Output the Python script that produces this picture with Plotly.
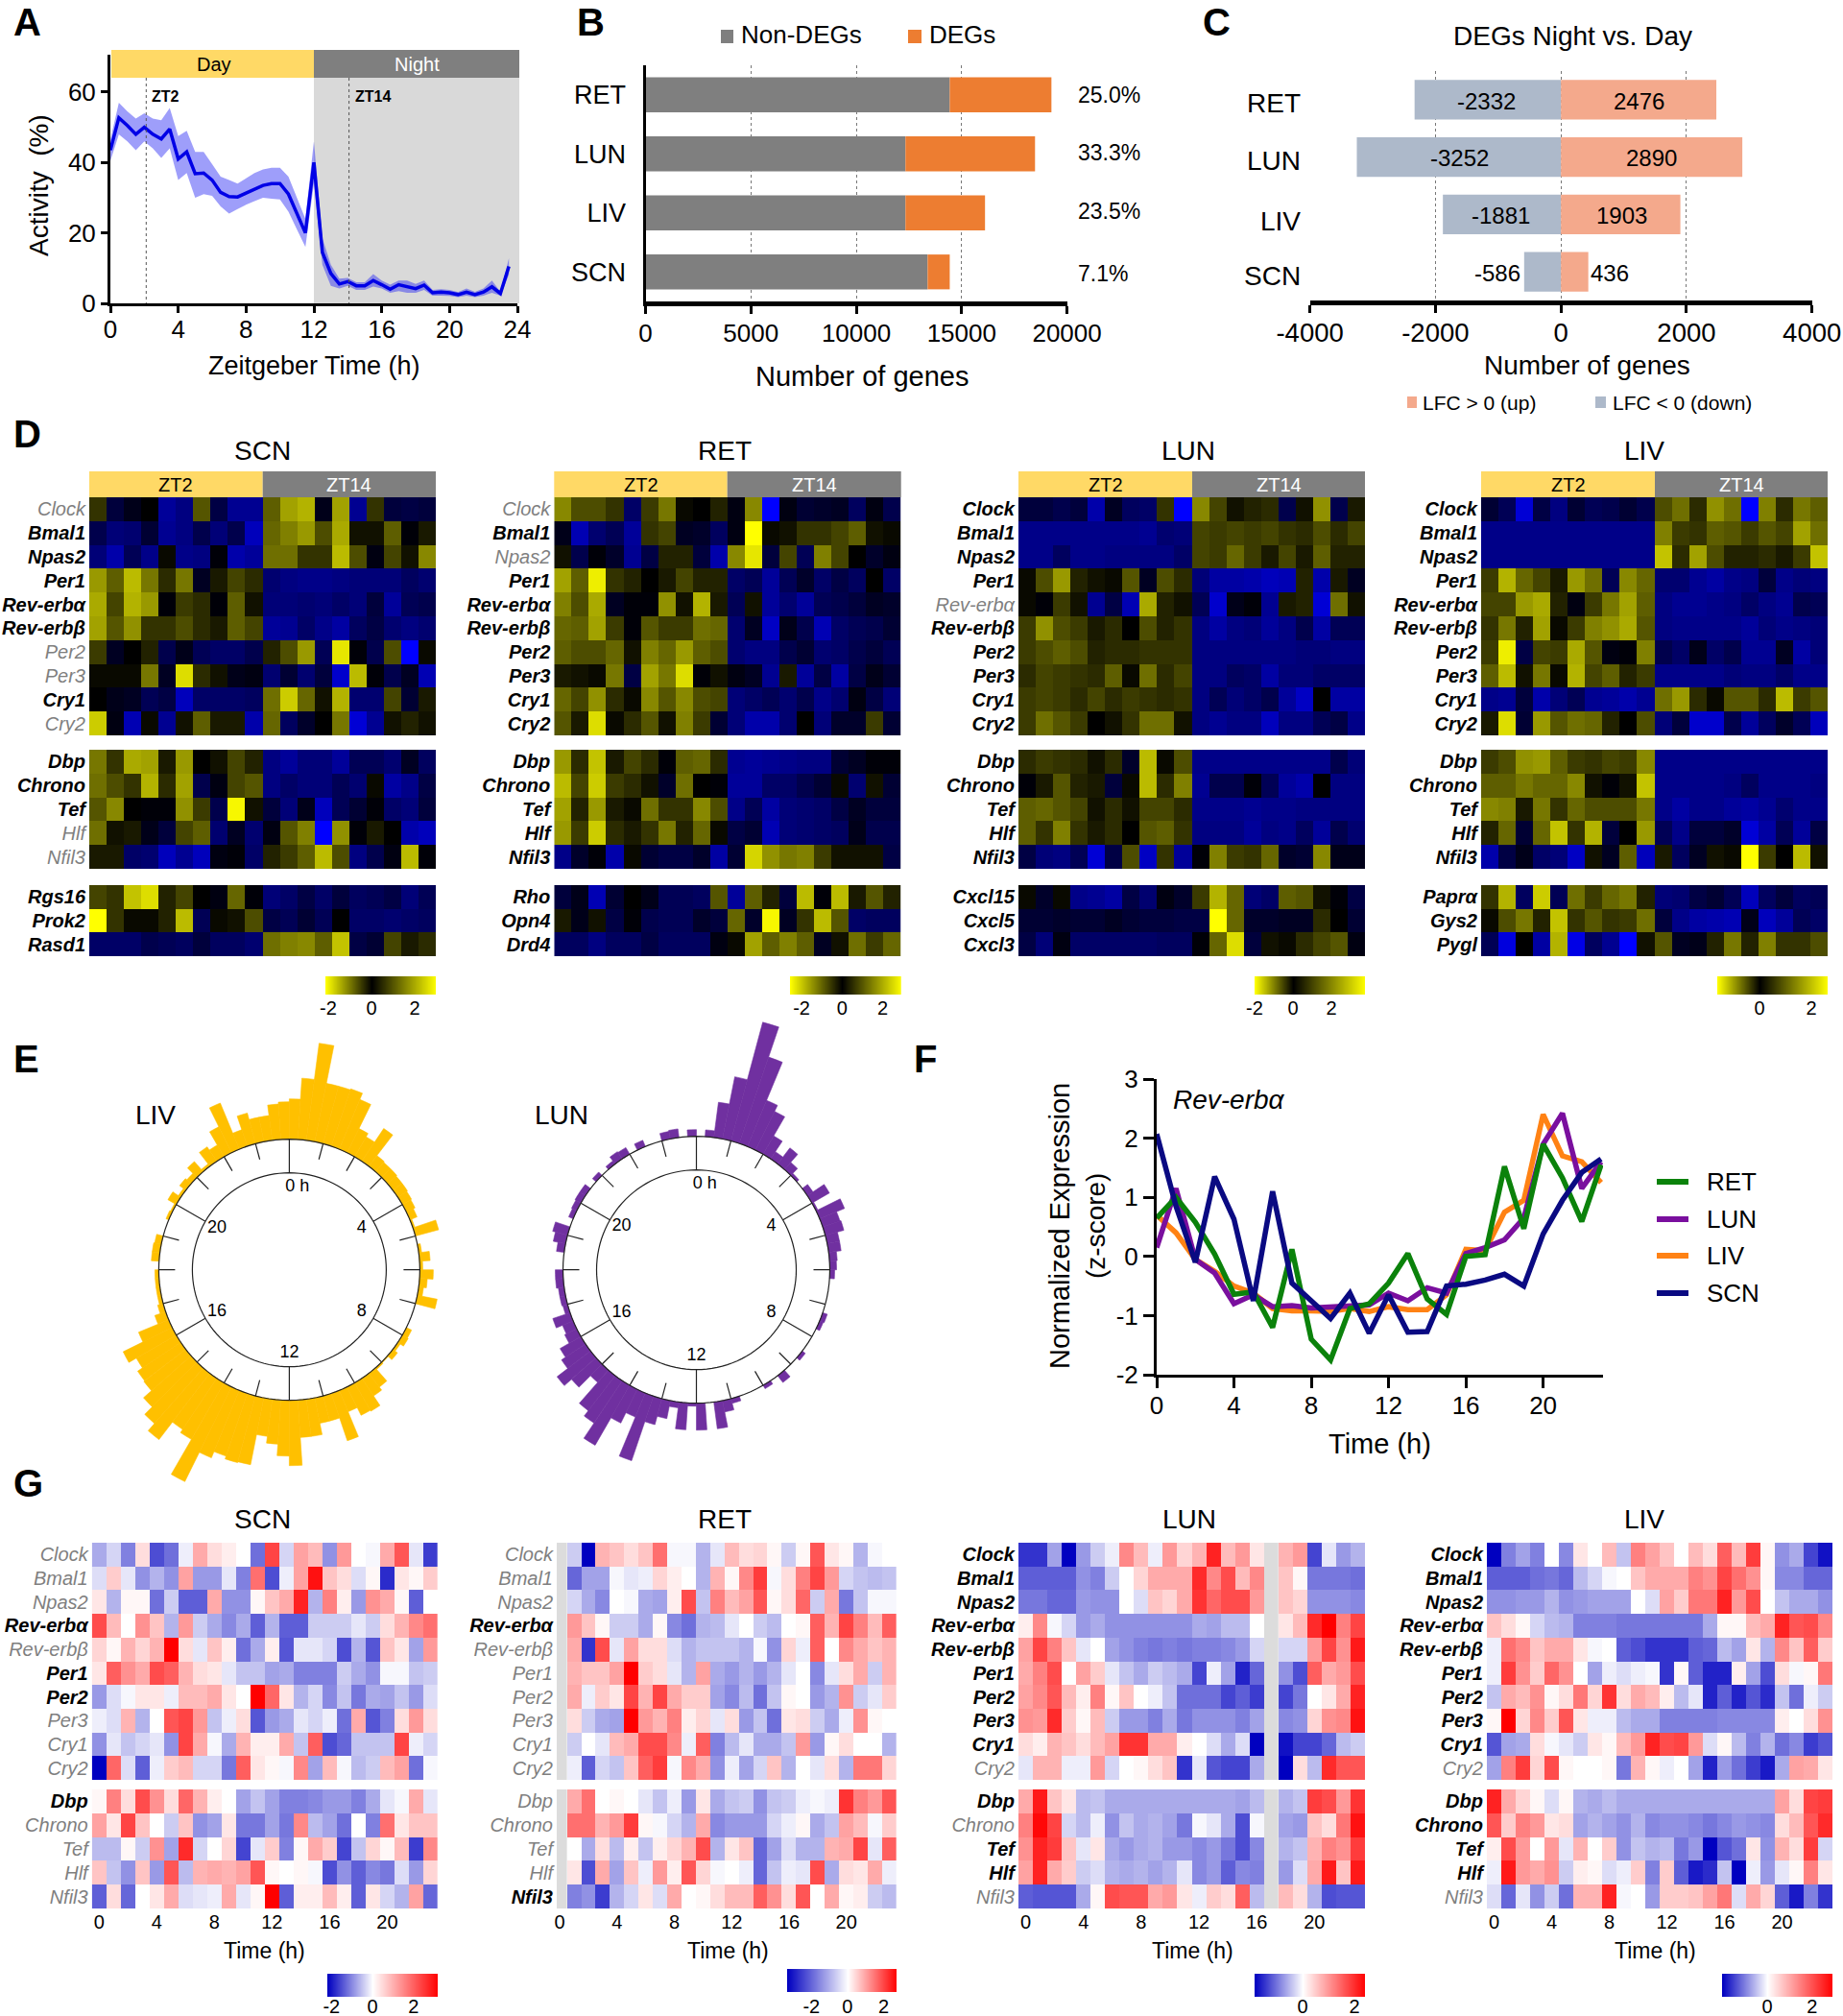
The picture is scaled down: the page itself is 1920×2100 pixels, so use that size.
# Circadian transcriptome figure, panels A-G
import plotly.graph_objects as go

W, H = 1920, 2100
FONT = "Liberation Sans"
N = None

# --- panel A
ACT_T = [i * 0.5 for i in range(48)]
ACT_MEAN = [43.5, 52.7, 50.5, 48, 50, 48, 46.7, 49.5, 41, 43, 36.8, 37, 35, 31.5, 30.3, 30.2, 31.3, 32.5, 33.5, 34, 34, 31, 25.5, 20,
            40, 14.5, 8.5, 5.5, 6.2, 5, 5, 6.5, 5.3, 4, 5.3, 4.8, 4.2, 5.2, 3, 3.2, 3, 2.5, 3.2, 2.5, 3.2, 4.7, 2.8, 10.5]
ACT_UP = [46.5, 57, 54.5, 52.5, 54, 52.5, 52, 55.5, 47.5, 49, 43, 43, 39.5, 36, 35, 34, 35.5, 37, 38, 38.5, 38.5, 36, 30, 24,
          46, 18.5, 11, 7, 7.2, 6, 6, 8.3, 6.5, 5.3, 6.5, 6.5, 5.5, 6.5, 3.8, 4, 3.8, 3.2, 4.2, 3.3, 4.2, 6.5, 3.3, 12.8]
ACT_LOW = [40.5, 48, 46, 43.5, 46, 44, 41.3, 44, 35, 37, 30, 31, 30.5, 27.5, 25.5, 26.8, 28, 29, 30, 29.7, 29.5, 26, 21, 16,
           34, 11, 5, 4.2, 5, 3.8, 3.8, 4.8, 4.2, 3, 3.5, 3, 3, 3.8, 2.2, 2.2, 2.1, 1.8, 2.2, 1.8, 2.2, 3, 2.2, 8.2]

# --- panels B and C
TISSUES = ["RET", "LUN", "LIV", "SCN"]
NON_DEGS = [14435, 12334, 12334, 13385]
DEGS = [4825, 6148, 3775, 1050]
DEG_PCT = ["25.0%", "33.3%", "23.5%", "7.1%"]
LFC_DOWN = [-2332, -3252, -1881, -586]
LFC_UP = [2476, 2890, 1903, 436]

# --- panel D, z-scores per gene (10 ZT2 samples then 10 ZT14 samples)
D_SCN_GENES = ["Clock", "Bmal1", "Npas2", "Per1", "Rev-erbα", "Rev-erbβ", "Per2", "Per3", "Cry1", "Cry2", "Dbp", "Chrono", "Tef", "Hlf", "Nfil3", "Rgs16", "Prok2", "Rasd1"]
D_RET_GENES = D_SCN_GENES[:15] + ["Rho", "Opn4", "Drd4"]
D_LUN_GENES = D_SCN_GENES[:15] + ["Cxcl15", "Cxcl5", "Cxcl3"]
D_LIV_GENES = D_SCN_GENES[:15] + ["Paprα", "Gys2", "Pygl"]
D_SCN_GREY = ["Clock", "Per2", "Per3", "Cry2", "Hlf", "Nfil3"]
D_RET_GREY = ["Clock", "Npas2"]
D_LUN_GREY = ["Rev-erbα"]
D_LIV_GREY = []

D_SCN = [
    [0.6, -0.7, -0.3, 0, -1.8, -1.5, 1, -0.8, -1.7, -1.7, 1.1, 1.9, 2.1, -0.3, 1.9, -1.7, 0.6, -0.7, -0.8, -0.7],
    [-0.9, -1.4, -1.3, -0.6, -1.7, -1.5, -0.9, -1.4, -0.9, -2.2, 1.2, 1.5, 1.8, 0.9, 2, 0.2, 0.2, 1.1, -0.1, 0.3],
    [-1.4, -2, -1, -1.6, 0.1, -1.6, -1.5, -0.1, -2, -1.8, 1.3, 1.3, 0.6, 0.6, 2.2, 0.9, -0.2, 0.8, 0.2, 1.6],
    [1.8, 1.1, 2.2, 1.4, 0.5, 1.4, -0.4, 0.3, 0.8, 0.5, -1.3, -1.5, -1.6, -1.6, -1.5, -1.4, -1.4, -1.4, -1.1, -1.3],
    [2, 0.8, 2.1, 1.8, -0.1, 0.7, 0.5, -0.1, 1.1, 0.2, -1.4, -1.4, -1.3, -1.4, -1.2, -1.4, -0.7, -1.8, -1, -0.9],
    [1.9, 1, 1.7, 0.6, 0.6, 0.9, 0.5, 0.3, 1.1, 0.8, -1.8, -1.7, -1.2, -1.6, -1.9, -1.1, -0.8, -1.3, -1.5, -1.3],
    [0.7, -0.4, 0, 0.4, -0.9, -0.3, -1, -1.2, -1.2, -0.9, 0.4, 0.9, 1.8, -1, 2.7, -0.1, -0.9, 0.9, -3, 0.1],
    [0.1, 0.1, 0.1, 1.4, -0.4, 2.6, 0.5, 0.2, -0.3, -0.2, -1.3, -0.6, -1.3, -0.7, -2.4, 2.2, -0.1, -0.9, -0.4, -2.1],
    [0, -0.3, -0.4, -1, -0.8, -2.2, -1.2, -1.2, -1.2, -1.1, 1.3, 2.4, 1.2, 0.2, 2.1, -1.3, -1.3, 0.8, -0.6, 0.3],
    [2.4, -0.2, -2.1, 0.1, -1.7, 0.2, 1.1, 0.3, 0.3, -2, 1.2, -1.1, -0.5, 0, 1.4, -2.5, -1.7, 0.2, 0.4, 0.2],
    [1.4, 0.6, 2, 1.9, 0.3, 1.8, 0, 0.2, 0.8, 0.4, -1.5, -1.8, -1.4, -1.4, -1.8, -1, -1, -1.3, -0.4, -1.1],
    [1.3, 0.9, 0.6, 2.1, 0.5, 1.9, -0.9, -0.2, 0.8, 1, -1.5, -1.2, -1.4, -1.4, -1, -1.3, 0.1, -1.9, -1.6, -0.8],
    [1, 1.6, 0, -0.1, -0.1, 1.7, 0.7, -0.9, 2.9, 0.2, -0.7, -1.4, -0.3, -2.2, -1, -0.6, -0.1, -1.2, -1.4, -0.7],
    [1.3, 0.2, 0.3, -0.3, -0.7, 0.8, 1.1, -1.3, -0.4, -1.3, -0.2, 1, 1.5, -3, 1.7, -0.1, 0.3, 0, -2, -2.2],
    [0.3, 0.3, -1.2, -1.3, -2.2, -1.7, -2.2, -0.2, -0.1, -1.2, 0.4, 0.7, 1.1, 2.2, 0.9, -1.5, -0.9, -0.2, 2.2, -0.1],
    [0.8, 0.6, 2.3, 2.6, 0.4, 0.8, 0, -0.2, 1.2, -0.1, -1.4, -1.2, -0.8, -1.2, -0.7, -1.1, -1, -0.8, -1.4, -1],
    [3, 0.6, 0.1, 0.1, 0.4, 2.2, -1, 0.1, 0.2, 0.9, -0.8, -1, -0.6, -1, 0, -1.2, -1.2, -1.3, -1.2, -1.1],
    [-1.2, -1.2, -1.2, -0.9, -1, -1.1, -0.7, -1.1, -1.1, -1.3, 1.3, 1.5, 1.6, 1.1, 2.3, -0.8, -0.6, 0.8, 0.3, 0.5],
]
D_RET = [
    [1.6, 0.9, 0.9, 0.6, -1.2, 0.7, 1.4, 0.1, 0, 0.4, -0.2, 1.6, -3, -0.2, -0.6, -0.5, -0.4, -1.1, -0.2, -0.9],
    [-0.3, -2.1, -1.3, -1, -1.8, 0.6, 0.8, -0.4, -0.5, -1.1, -0.2, 3, 0.1, 0.2, 0.6, 0.6, 0.8, 1.1, 0.2, 0.1],
    [0.2, -0.9, -0.1, -0.5, -1.7, -0.8, 0.4, 0.4, -0.7, -2, 1.6, 2.7, -0.7, 0.8, -1, 1.5, 0.8, 0, -0.5, -0.2],
    [1.9, 1.1, 2.8, 0.6, 0.4, 0, 0.3, 0.8, 0.4, 0.4, -1.2, -1, -1.8, -1, -0.5, -1.2, -0.8, -1.1, 0, -1.2],
    [1.5, 0.9, 2, -0.4, -0.1, -0.1, 1.7, 0.2, 2.1, 0.3, -1, 0.2, -1.8, -1.3, -1.8, -1, -0.9, -0.7, -0.4, -0.5],
    [1.2, 1.1, 1.9, 0.7, -0.1, 1, 0.7, 0.7, 1.3, 1.2, -1.3, -0.4, -2.3, -0.3, -0.9, -2.1, -1.2, -1, -0.9, -0.6],
    [1.1, 0.9, 0.9, 1.2, 0.2, 1.5, 1.2, 1.8, 1.1, 0.9, -1.3, -1.5, -1.5, -0.9, -0.6, -1.3, -1.2, -0.9, -0.7, -1],
    [0.3, 0.2, 0.1, 1.4, -0.8, 1.9, 1.4, 2.6, -0.1, 0.2, -0.2, -0.4, -1.7, 0.3, -1.8, -0.8, -1.9, -0.8, -0.3, -0.6],
    [1.2, 0.8, 1.7, 0.5, 0.1, 1.6, 1, 1.6, 0.9, 0.8, -1.4, -1.2, -1, -1.3, -0.9, -1.6, -1.3, -0.2, -0.8, -1.4],
    [1, 0.3, 2.6, 0.1, 0.5, 1, 0.2, 1.5, 0.7, -0.6, -1.4, -2, -2, -1.3, 0, -1.4, -0.5, -0.5, 0.7, -0.6],
    [1.8, 0.5, 2.3, 0.3, 0.8, 0.5, -0.1, 1.1, 1.2, 0.5, -1.7, -1.8, -1.7, -1.6, -1.5, -1.5, -0.6, -0.4, -0.1, -0.1],
    [2.2, 0.8, 2.4, 0.7, 0.5, 0.2, -0.5, 1.3, 0, -0.1, -1.8, -1.8, -1.2, -1.2, -0.9, -0.6, 0.1, -1.3, 0.2, -0.6],
    [1.9, 0.4, 1.8, 0.3, 0.1, 1.3, 0.6, 0.6, 1.6, 0.9, -1.6, -1, -1.9, -1.4, -1.3, -1.2, -0.8, -0.4, -0.7, -0.7],
    [1.8, 0.7, 2.4, 0.5, 0.3, 0.6, 1.4, 0.4, 1.2, 0.1, -0.8, -0.6, -2.1, -1.4, -1.3, -1.2, -1.1, -0.3, -0.9, -0.9],
    [-1.6, -0.5, -0.1, -2, 0.1, -0.6, -0.8, -0.8, -0.5, -1.9, -0.6, 2.5, 1.7, 1.4, 1.5, 0.7, 0.2, 0.2, 0.2, -0.8],
    [-0.7, -0.3, -2.1, -0.6, 0, -0.3, -1, -1, -1.1, 1, -1.8, 1.1, 0.4, -0.7, 2.2, -0.1, 2.2, 0.3, 1, 0.4],
    [0.3, -0.3, 0.2, -0.8, -0.1, -0.9, -1, -1, -0.5, -0.7, 1.2, -0.5, 2.9, -0.4, 0.6, 2.2, 1, -1.2, -1.1, -1.1],
    [-1.1, -1.1, -1.5, -1.1, -1.1, -0.8, -1.1, -1.1, -1.1, -0.2, 0.1, 1.9, 1.1, 1.5, 1.1, -0.4, 0.2, 1.3, 0.7, 1.2],
]
D_LUN = [
    [-0.7, -0.7, -0.9, -0.7, -2, -0.4, -1.1, -1.2, 0.6, -3, 1.6, 0.8, 0.2, 0.4, 0.5, -0.9, 0.2, 1.7, -0.9, 0.3],
    [-1.6, -1.6, -1.6, -1.6, -1.6, -1.6, -1.6, -1.7, -1.3, -1.4, 0.8, 0.7, 0.8, 0.7, 0.8, 0.6, 0.5, 0.9, 0.5, 0.8],
    [-1.6, -1.6, -1.1, -1.6, -1.6, -1.5, -1.5, -1.5, -1.5, -1.2, 0.8, 0.7, 1.2, 0.7, 0.3, 0.8, 0.3, 1.1, 0.4, 0.4],
    [0.1, 0.9, 1.8, 0.4, 0.2, 0.1, 1, -0.4, 0.9, 0.5, -1.4, -1.9, -1.9, -2, -2.2, -2.1, 0.4, -2, 0.3, -0.4],
    [0.1, -0.1, 0.7, 0.2, -1.7, -0.8, -2.1, 2, 0.4, 0.2, -1, -2.4, -0.3, -0.1, -1.7, 0.3, 0.4, -2.5, 1.3, 0.2],
    [0.7, 1.7, 0.9, 0.7, 0.3, 0.5, 0, 0.9, 0.4, 0.6, -1.5, -1.9, -1.5, -1.4, -1.8, -1.5, -0.9, -1.9, -1, -1],
    [0.7, 0.9, 1.1, 0.9, 0.4, 0.5, 0.5, 0.6, 0.6, 0.6, -1.5, -1.5, -1.5, -1.5, -1.5, -1.5, -1.4, -1.4, -1.5, -1.5],
    [0.5, 0.8, 0.7, 0.6, 0.5, 1.1, 0.1, 1.3, 0.5, 0.8, -1.5, -1.5, -1.1, -1.2, -1.9, -1.4, -1.4, -1.2, -1.2, -1.2],
    [0.7, 0.8, 0.7, 0.5, 0.8, 0.5, 0.7, 0.6, 0.5, 0.6, -1.5, -1, -1.4, -1.2, -0.9, -1.8, -2.3, 0, -1.9, -1.9],
    [0.7, 1.3, 1, 0.7, 0, 0.2, 0.6, 1.3, 1.3, 0.2, -1.5, -1.7, -1.5, -1.5, -2.2, -1.5, -1.5, -1, -0.8, -1.6],
    [0.5, 0.7, 0.6, 0.5, 0.2, 0.5, -0.5, 2.2, 0.1, 0.9, -1.6, -1.6, -1.6, -1.6, -1.6, -1.6, -1.6, -1.6, -0.9, -1.4],
    [-0.1, 0.3, 1, 0.4, 0.3, -0.7, 0.1, 2.2, 0.5, 1.5, -1.7, -0.9, -0.9, -0.1, -1, -1.8, -2, 0, -1.5, -1.5],
    [1.1, 1.2, 1, 0.8, 0.2, 0.5, 0.2, 0.8, 0.8, 0.5, -1.6, -1.6, -1.6, -1.7, -1.6, -1.6, -1.5, -1.5, -1.5, -1.5],
    [1.1, 0.6, 1.5, 0.6, 0.3, 0.5, 0, 1, 1.1, 0.6, -1.5, -1.5, -1.5, -1.8, -1.5, -1.6, -1.1, -1.8, -0.9, -1.3],
    [-0.8, -1.4, -1.5, -1, -2.5, -0.8, 0.9, -2.3, 0.6, -1.8, -0.1, 1.5, 0.7, 0.6, 1.2, -0.5, -0.6, 1.6, -0.3, -0.3],
    [0.1, -0.5, 0.1, -1.6, -1.7, -1.9, -0.8, -1.3, -0.2, -0.5, 0.7, 2.1, 1.2, -1.4, -1.2, 1.1, 1, 0.2, -0.1, -0.8],
    [-0.6, -0.6, -0.5, -0.6, -0.6, -0.4, -0.6, -0.7, -0.7, -0.8, -0.8, 3, 1.2, -0.5, -0.5, -0.4, -0.4, 0.5, 0, -0.6],
    [-0.8, -1.4, -0.2, -1.2, -1.2, -1.2, -1.2, -1.2, -1.1, -1.1, -0.1, 1.2, 2.6, -0.7, 0.2, 0.1, 0.5, 0.8, 1, -0.2],
]
D_LIV = [
    [-0.6, -1, -2.5, -0.8, -1.5, -0.6, -1, -0.9, -0.6, -0.9, 0.9, 1.3, 0.5, 1.7, 1.3, -3, 1.5, 0.5, 1.4, 1.1],
    [-1.6, -1.6, -1.6, -1.6, -1.6, -1.6, -1.6, -1.6, -1.6, -1.6, 1.5, 0.7, 0.6, 1.1, 1, 0.7, 1, 0.8, 1.9, 1.3],
    [-1.6, -1.6, -1.6, -1.6, -1.6, -1.6, -1.6, -1.6, -1.6, -1.6, 2.3, 0.5, 1.9, 0.9, 0.4, 0.4, 0.5, 0.3, 0.7, 2.3],
    [0.7, 2.1, 1.2, 0.8, 0.3, 1.8, 1.3, -1, 1.6, 1.2, -1.3, -1.3, -1.7, -1.9, -1.6, -1.5, -0.7, -1.6, -1.4, -1.5],
    [0.8, 0.8, 1.8, 2, 0.4, -0.2, 0.7, 1.4, 1.9, 1.1, -1.5, -1.7, -1.7, -1.6, -1.5, -1.2, -1.5, -1.7, -0.9, -1],
    [0.6, 1.4, 0.4, 1.9, 0.1, 0.7, 1.5, 1.7, 2, 1, -1.5, -1.6, -1.6, -1.6, -1.6, -1.8, -1.4, -1.6, -1.5, -1.4],
    [0.7, 2.8, -0.8, 0.8, 0.7, 2, 1, -0.2, -0.1, 1.5, -0.9, -1.2, -0.3, -1.2, -0.9, -1.7, -1.7, -0.4, -1.9, -1.4],
    [1.1, 2.2, 0.2, 1.4, 0.1, 2.1, 0.8, 1.1, 0.4, 0.7, -1.6, -1.6, -1.6, -1.6, -1.4, -1.5, -1.5, -1.2, -1.6, -1.6],
    [-1.6, -1.7, -0.7, -2, -1.4, -1, -1.7, -1.8, -2, -1.7, 1.3, 1.8, 0.5, 0.1, 1, 1, 0.5, 2.2, 0.7, 1],
    [0.3, 2.6, -0.6, 1.8, 1, 1.3, 1.2, 0.4, 0, 0.9, -1.4, -0.7, -2.4, -2.4, -0.9, -1.8, -1.1, -0.5, -1, -2.2],
    [0.7, 0.9, 1.7, 1.8, 1.1, 0.7, 0.6, 0.8, 0.7, 1.6, -1.6, -1.6, -1.6, -1.6, -1.6, -1.6, -1.6, -1.6, -1.6, -1.6],
    [1.1, 1.1, 1.4, 1.2, 1.2, 1.6, 0.2, -0.1, 0.2, 2.3, -1.6, -1.6, -1.6, -1.6, -1.5, -1.1, -1.6, -1.6, -1.6, -1.5],
    [1.6, 1.5, 0.3, 1.4, 0.6, 1.2, 0.9, 0.9, 0.9, 1.4, -1.6, -1.9, -1.6, -1.6, -1.8, -1.9, -1.7, -1.3, -1.6, -1.6],
    [0.4, 1.2, -0.6, 1.2, 2.3, 0.6, 2.1, -0.7, 0, 1.8, -1, -1.6, -0.7, -0.7, -0.5, -2.5, -1.9, -1, -1.8, -0.8],
    [-2, -0.8, -0.3, -1.2, -1.4, -2.3, 0.2, -0.4, 1.1, -2.2, 0.3, -1.1, -0.4, 0.2, 0.1, 3, 0.7, 0, 2.2, 0.2],
    [0.6, 2.1, -1.1, 2.4, -1, 1.3, 0.7, 1.2, 1.4, 0.4, -1.4, -1.3, -0.8, -0.6, -1, -2.2, -1.1, -0.7, -1.1, -1],
    [0.1, 0.9, 1.4, 0.4, 2.3, 0.6, 1, 0.6, 0.7, 1.3, -0.7, -1.6, -1.9, -2, -2.1, -0.3, -2.2, -1.8, -1, -1.2],
    [-1, -2.6, 0, -1.9, 2.1, -2.7, -1.1, -1.7, -3, 0.2, 1, -0.4, -0.3, 0.4, 1.4, 0.4, 1.5, 0.6, 0.6, 0.9],
]

# --- panel E, peak-phase histograms in 96 bins of 0.25 h
LIV_HIST = [42, 64, 102, 62, 62, 63, 56, 28, 24, 41, 14, 13, 13, 12, 12, 11, 10, 8, 2, 25, 0, 3, 11, 3,
            14, 8, 5, 21, 0, 0, 0, 6, 7, 3, 6, 1, 2, 18, 22, 34, 33, 24, 52, 27, 27, 39, 39, 68,
            58, 46, 39, 71, 72, 69, 76, 110, 68, 64, 87, 77, 66, 55, 54, 48, 57, 34, 12, 6, 4, 4, 4, 4,
            0, 8, 8, 7, 0, 0, 3, 2, 10, 3, 8, 6, 14, 3, 18, 14, 30, 52, 18, 33, 26, 26, 37, 39]
LUN_HIST = [0, 7, 37, 66, 128, 95, 52, 45, 22, 9, 21, 10, 3, 0, 7, 21, 2, 28, 19, 20, 13, 13, 8, 7,
            5, 0, 0, 0, 0, 5, 4, 0, 0, 0, 4, 0, 0, 9, 0, 4, 0, 0, 0, 5, 12, 28, 0, 28,
            3, 28, 6, 19, 28, 71, 27, 39, 72, 53, 46, 17, 34, 44, 30, 25, 14, 12, 19, 5, 6, 6, 8, 8,
            0, 0, 8, 13, 16, 0, 5, 6, 7, 7, 0, 5, 0, 4, 9, 8, 0, 7, 0, 0, 8, 9, 0, 7]
CLOCK_LABELS = ["0 h", "4", "8", "12", "16", "20"]
CLOCK_HOURS = [0.37, 4, 8, 12, 16, 20]
LONG_TICKS = [0, 4, 8, 12, 16, 20]
SHORT_TICKS = [1, 2, 3, 5, 6, 7, 9, 10, 11, 13, 14, 15, 17, 18, 19, 21, 22, 23]

# --- panel F
F_T = list(range(24))
F_RET = [0.65, 1.0, 0.58, 0.04, -0.64, -0.6, -1.2, 0.12, -1.4, -1.75, -0.88, -0.8, -0.45, 0.05, -0.72, -0.98, 0.0, 0.03, 1.52, 0.47, 1.9, 1.33, 0.59, 1.55]
F_LUN = [0.15, 1.15, -0.05, -0.28, -0.8, -0.65, -0.85, -0.83, -0.87, -0.85, -0.82, -0.82, -0.62, -0.75, -0.53, -0.62, 0.05, 0.15, 0.28, 0.65, 1.9, 2.42, 1.15, 1.6]
F_LIV = [0.7, 0.4, -0.05, -0.25, -0.5, -0.62, -0.88, -0.92, -0.92, -0.93, -0.88, -0.93, -0.85, -0.9, -0.9, -0.65, 0.12, 0.1, 0.75, 0.95, 2.4, 1.7, 1.6, 1.25]
F_SCN = [2.07, 0.85, -0.1, 1.35, 0.63, -0.75, 1.1, -0.45, -0.75, -1.05, -0.62, -1.3, -0.65, -1.28, -1.27, -0.5, -0.47, -0.4, -0.3, -0.5, 0.38, 0.95, 1.42, 1.65]

# --- panel G, z-scores per gene across 24 h
G_GENES = ["Clock", "Bmal1", "Npas2", "Rev-erbα", "Rev-erbβ", "Per1", "Per2", "Per3", "Cry1", "Cry2", "Dbp", "Chrono", "Tef", "Hlf", "Nfil3"]
G_SCN_BOLD = ["Rev-erbα", "Per1", "Per2", "Dbp"]
G_RET_BOLD = ["Rev-erbα", "Nfil3"]
G_LUN_BOLD = ["Clock", "Bmal1", "Npas2", "Rev-erbα", "Rev-erbβ", "Per1", "Per2", "Per3", "Cry1", "Dbp", "Tef", "Hlf"]
G_LIV_BOLD = ["Clock", "Bmal1", "Npas2", "Rev-erbα", "Rev-erbβ", "Per1", "Per2", "Per3", "Cry1", "Dbp", "Chrono", "Tef", "Hlf"]

G_SCN = [
    [-1, -0.5, -1.5, 0.4, -2.1, -1.7, -0.2, 1, 0.4, 0.2, 0, -1.7, 2.2, -0.5, 1.1, 0.8, -1.3, 1.2, 0, -0.1, 1, 2, -0.3, -2.3],
    [-0.4, 0.6, -0.3, -1.3, -0.9, -1.3, 1.1, -1.2, -1.2, -0.3, -1.5, 1.7, -2.1, -0.2, 1.1, 2.8, 0.7, 0.4, -0.4, 0.1, -2.5, 0.3, 0.1, 0.6],
    [0.3, -0.9, 0.1, 0.1, -1.7, -0.6, -1.9, -1.9, 1, -1.3, -1.3, 0.1, 0.7, 1, 2.6, -0.9, 1.5, 0.2, -1.2, 1.3, 1, 0.1, -1.9, 0],
    [2.1, 0.8, 0, 1.3, 0.7, -0.9, 1.2, -0.6, -1, -1.4, -1, -1.9, -0.9, -1.9, -1.9, -0.6, -0.6, -0.6, -0.3, -0.6, 0.4, 0.9, 1.4, 1.7],
    [0.5, 0.1, 0.9, 0.5, 0.9, 3, 0.4, -0.3, 0.7, 0.2, -1.7, -1, 0.2, -2, -0.3, -0.3, -0.5, -2.1, -0.9, -2, 0.7, 0.3, -1.1, 1.2],
    [0.3, 1.9, 1.3, 1, 2.1, 1.9, 0.9, 0.4, 0.3, -0.3, -0.7, -0.7, -1.1, -1, -1.5, -1.5, -1.5, -0.6, -1, -1.3, -0.1, -0.1, -0.7, -0.6],
    [-1.2, -0.4, -0.1, 0.3, 0.3, -0.2, 0.8, 0.8, 1, 0.3, 0, 3, 1.8, 0.3, -0.9, -0.5, -1.4, -0.7, -1.6, -1, -1.1, -0.7, -1.2, -0.4],
    [-0.2, -0.4, 0.9, -0.9, 0, 2, 2.2, 1.2, -0.7, -0.2, 0.4, -2, -1.2, -1, -0.3, -0.5, -0.2, -1.7, 1, -2, -1.5, 0.4, 1.2, 0.4],
    [-1.3, -0.3, -0.7, -0.5, -0.3, -1.3, 2.2, 1, -0.1, -1, 0.9, 0.2, 0.2, 1, -0.7, 1.9, -2.1, -1.8, -0.7, -0.7, -0.7, 2.2, -0.2, -0.5],
    [-3, 1.8, -0.4, -1.9, -0.2, 0.6, 0.8, -0.5, -0.5, -1.6, 1.9, 0.3, 0.1, -0.1, 1.4, -1.1, 0.8, -0.1, -0.8, -0.6, 0.8, 1.1, -1.7, -0.1],
    [0.1, 1.5, 0.4, 2.1, 1.3, 0.4, 1.8, 0.9, 0.2, 0, -1.1, -0.7, -1.1, -1.5, -1.5, -1.4, -1.2, -1.2, -1.5, -1, -0.3, -0.1, 1, -0.3],
    [1.1, 0.3, 2.2, 0.7, 0, -0.6, 0.7, -1.3, -1.1, 0.3, -1.6, -1.6, -1.1, -1.6, 1.4, -0.8, -1.1, -1.7, 0, -1.5, 1.7, 0.3, 0.7, 0.7],
    [-0.8, -0.8, 0.1, -0.6, 1.3, -1.1, 2.5, -0.5, 0, 0.5, -2.2, -0.3, 0.6, -1.5, 0.1, 1, 0.6, -2.2, -0.7, 0.5, 0.1, 0.8, -2.3, 1.4],
    [0.7, -0.7, -1.3, 0.7, -1.2, 2, -0.8, 0.9, 1, 0.9, 1.1, 2, 0.1, 0, 0.1, -0.1, -2.1, -1.3, -1.9, -1.4, -1.6, -0.4, -1.2, 0.5],
    [-1.9, 0.4, -1.8, 0, 0.3, 1, -0.4, -0.3, -0.2, 1, -0.3, 0.1, 3, -1.9, 0.2, 0.2, 0.8, 0.2, -1.9, 0.3, -0.5, -0.9, 1.1, -1.8],
]
G_RET = [
    [N, -0.6, -3, 0.9, 0.7, 0.4, 0.7, 1.7, -0.1, -0.1, -0.9, -0.3, 0.8, 0.4, 0.5, 0.1, -0.6, 0.1, 2, 0.3, 0.1, -0.9, -0.1, 0],
    [N, -1.8, -1.1, -1.1, -0.1, -0.3, -0.2, 0.5, 0.2, 0, -0.9, 0.9, 0.1, 1.4, 2.3, -0.1, 0.4, 1.5, 2.2, 1.2, -0.5, -0.7, -0.8, -0.7],
    [N, -0.5, -1, -1.4, 0, -0.1, -1, -1.1, 0.2, 2.1, -0.7, 1.5, 0.8, 1.1, 2, 0.1, 0.4, 1.8, -0.6, 1, -1.6, -0.7, -0.1, -0.1],
    [N, 1.2, 0.7, 0.1, -0.6, -0.6, -1, 0.1, -1.4, -1.7, -0.9, -0.8, -0.3, 0, -0.6, -0.8, 0, 0.1, 1.9, 0.9, 2.2, 1.5, 0.8, 1.9],
    [N, 1, -2.4, 2.1, -0.3, 1.1, 0.4, 0.4, -0.4, -0.9, -0.7, -0.7, -0.7, -0.9, -0.1, -1.3, 0.5, -0.2, 1.9, 0, 1.4, 1, 0.7, 0.9],
    [N, 0.9, 0.7, 0.7, 1.1, 3, 0.6, 0.4, -0.3, -0.9, 1.1, -1, -1.2, -0.9, -1.2, -0.9, -0.3, 0, -1.4, -0.3, 0.4, 1, -0.6, 0.9],
    [N, 1, -0.2, 0.6, 0.3, 2.2, 0.9, 2.2, 1, 0.6, 0.6, -1.1, -1.4, -0.8, -1.7, -0.7, 0.1, 0, -1.2, -0.9, 1.3, -0.6, -0.3, 0.6],
    [N, 0.4, -0.6, -1, -1.1, 3, 1.2, 0.9, 1.5, 0.2, 0.5, -0.3, 0.4, -1.2, -0.7, -1.7, 0.3, 0.4, -0.6, -1, -0.2, 1.3, 0.1, 0],
    [N, -0.6, 0, -0.3, 0.8, 1, 2.1, 2.1, 1.4, -0.2, 1.9, -1.5, -0.8, -0.3, -1, -1, -0.7, 1.2, -1.2, 0.1, 0.4, 0, 0, -0.9],
    [N, -0.2, -1.9, -0.5, -0.7, 0.7, 1.9, 2.3, -0.1, 1.4, 1, -1.3, -0.2, -1.1, -0.5, 0.7, -0.9, 0, -0.3, 0.4, -0.9, 1.6, 1.6, 0.5],
    [N, 1, 1.7, 0, 0.1, 0, -0.3, -0.7, -0.2, -1.2, 0.3, -1, -0.7, -0.6, -1.3, -0.7, -0.6, -0.2, -0.1, -0.2, 2.4, 1.5, 1.2, 2],
    [N, 1.7, 1.7, 0.9, 1.2, 2.3, 0.1, -0.1, -0.5, -0.9, 1, -1.4, -1.2, -1.2, -1.2, -0.5, -0.2, 0.1, -1, -0.7, 1.1, 0.8, -0.1, 0.6],
    [N, 0, -1, 0.4, -0.8, 0.2, -0.7, 0.2, 0.5, 0.9, 2.1, -0.9, 0.3, 0.7, -1.8, -1.1, -0.4, -0.9, -0.9, 0.9, 1, 2.2, -0.3, 1.9],
    [N, 0.3, -2.1, 1, -1.1, 0.7, -0.2, 1.2, 0.2, 2, 0.5, -0.1, 0, -0.2, -1.8, -0.7, -0.2, -0.3, 2.1, -1, 0.4, 0.3, 1, -0.2],
    [N, -1.5, -1.3, -2.3, -0.9, -0.5, 0.3, -0.4, 1, 0, 0.1, 0.4, 0.8, 0.8, 1.9, 1.3, 0.4, 2, 0, 1, 0.1, 0.2, -0.6, -0.8],
]
G_LUN = [
    [-2.4, -2.4, -1.1, -3, -1.2, -0.6, -0.2, 1.4, 0.8, -0.2, 1.2, 0.5, 0.9, 2.6, 0.8, 1.2, 0.3, N, 0.9, 1.2, -2.2, -0.3, -1.2, -0.9],
    [-1.9, -1.9, -1.9, -1.9, -1.3, -1.5, -0.6, 0, 0.5, 1, 1, 1, 2.5, 1.4, 2.1, 0.8, 1.4, N, 0.7, 0.1, -1.6, -1.6, -1.6, -1.7],
    [-1.6, -1.6, -1.8, -1.8, -1.2, -1.3, -1.3, 0, -0.4, 0.7, 0.5, 1, 2.4, 1.8, 2.1, 2.1, 1.2, N, 0.7, 0.5, -1.3, -1.3, -1.3, -1.4],
    [0.2, 1.4, -0.1, -0.5, -1.2, -1, -1.3, -1.3, -1.3, -1.3, -1.3, -1.3, -1, -1.1, -0.8, -0.8, 0, N, 0.3, 0.8, 2.5, 3, 1.5, 2.2],
    [1.1, 2.2, 1.5, 0.7, -0.3, 0, -1.1, -1.3, -1.5, -1.6, -1.5, -1.6, -1.5, -1.5, -1.4, -1.2, -0.5, N, -0.5, -0.5, 1.2, 2.2, 1.3, 2.7],
    [1, 1.5, 2.1, 0, 1.1, 0.6, -0.3, -0.7, -1, -0.6, -0.8, -1, -2.2, -0.2, -1.1, -2.6, -1.8, N, -1.3, -2.1, 1.9, 1, 1.2, 2.1],
    [1.1, 1.4, 2, 0.8, 0.2, 1.5, 0.1, 0.7, 0, -0.2, -0.7, -1.7, -1.7, -1.7, -2.2, -1.9, -2.3, N, -2.2, -1.6, 0, 0.3, 1, 2.6],
    [1.3, 1.2, 2.5, 0.6, 0.1, 0.8, -0.6, -1.2, -1.2, -1.5, -1, -1.6, -1.3, -1.3, -1.3, -1.5, -1.1, N, -1.4, -1.3, 0.5, 1.3, 1.4, 2.8],
    [0.4, 0.2, 0.9, 0.7, 0.4, 0.8, 1.1, 2.4, 2.4, 1, 1, 0.2, 0, -0.4, -1, -0.4, -3, N, -2.8, -2.2, -2.2, -1.8, -0.8, -0.6],
    [-0.3, 0.9, 0.9, -0.2, -0.2, 1.2, -0.5, 0, 0.1, 0.4, 0.7, -2.4, -0.3, -2, -2.2, -2.2, -1, N, -3, 0.4, -0.8, 2.5, 2, 2],
    [1, 2.7, 0.7, 0.3, -0.8, -0.7, -1, -1, -1, -1, -1, -1, -1, -1, -1, -1.1, -0.8, N, -0.9, -0.7, 2.3, 2.1, 1.2, 2.4],
    [1.5, 2.9, 2.2, -0.5, -0.8, -0.2, -1.3, -0.7, -1, -0.9, -1.1, -1.6, -0.1, -0.3, -1, -2.1, -0.1, N, -1.1, -1.2, 0.7, 0.4, 1.6, 2.8],
    [1.3, 2.6, 2.3, 0.7, -0.3, 0.3, -1, -1.2, -1, -0.9, -1.2, -1.2, -1.4, -1.2, -1.6, -2.1, -1.4, N, -0.9, -0.7, 0.9, 1.5, 1.3, 2.3],
    [1.1, 2.6, 1, 0.6, -0.6, -0.4, -0.9, -1, -0.9, -1.1, -0.9, -0.3, -1.4, -1.2, -1.9, -1.4, -1.5, N, -1.2, -0.4, 1, 2.7, 0.7, 2.7],
    [-1.9, -2, -2, -2, -1, 0.1, 2.1, 2, 2, 1, 1.2, 0.3, -0.2, 0.6, 0.4, 1.9, -0.8, N, 0.8, 0.4, -0.9, -2.1, -2, -2],
]
G_LIV = [
    [-3, -1.5, -1.1, -1.5, 0, -1.4, 0.3, 0, 0.8, -0.7, 1.5, 1.1, 0.7, 0, 0.8, 0.4, 1.9, 0.8, 2.3, 0.1, -1.3, -1, -2.2, -2.8],
    [-1.9, -1.9, -1.9, -1.7, -1.6, -1.8, -0.8, -0.5, -0.1, 0, 0.7, 1, 1, 1, 1.5, 1.3, 2.2, 1.7, 1.3, 0.1, -1.4, -1.4, -1.8, -1.8],
    [-1.3, -1.3, -1.2, -1.2, -0.9, -1.3, -1.2, -1.1, -1.1, -1.1, 0, -0.4, 1.1, 0.6, 1.6, 1.6, 2.6, 1.2, 2.1, 0, -0.7, -1, -1, -1.3],
    [0.7, 0.4, 0.1, -0.5, -0.8, -0.9, -1.5, -1.5, -1.5, -1.6, -1.6, -1.6, -1.6, -1.6, -1.6, -1, 0.1, 0.1, 0.8, 1, 2.6, 2, 2.1, 1.4],
    [-0.2, 1.7, 1.4, 0.7, 1, 1, 0.3, -0.1, 0, -1.9, -2.1, -2.4, -2.4, -2.4, -1.9, -1.8, -0.8, -1.1, 0.3, -0.9, 1.4, 0.7, 1.9, 0.6],
    [-0.2, 2.3, 1.3, 0.6, 1.8, 1.3, 0, -1.1, -0.2, -0.4, -0.2, -0.1, -2.4, 0.1, -1.9, -2.6, -2.6, 0.2, -1.1, -2.1, 0.4, -0.1, 0.1, 1.6],
    [-0.7, 1, 0.8, 1.3, 0.1, 0.4, 1.6, 0.5, 2.4, 0.4, 1, 0.8, 0.2, -0.8, -0.3, -2.6, -1.9, -2.6, -2, -2.5, -0.7, -1.7, -0.2, -0.6],
    [0.1, 3, 0.5, 1.4, 0.6, 2, 0.3, -0.2, -0.2, -0.8, -1, -1, -1.5, -1.5, -1.5, -1.5, -1.4, -1.4, -1.4, -1.4, 0.2, 0, 0.4, 1.3],
    [-2, -1.1, -1, 0.4, -0.1, -0.3, -0.6, 0.3, 0.1, 0.8, 1.2, 2.6, 2.1, 2.2, 1.2, -0.4, 0.1, -0.8, -1.5, -0.9, -1.7, -1.4, -2.3, -2],
    [-1.1, 1.5, 2.3, 0.5, 2.1, 0.1, 0, 0, 0.1, -1.6, 0.9, 0.1, -0.2, 0, -1.1, -2.6, -1.2, -1.7, -2.3, -2.7, -1, 1.1, 1, 0.3],
    [2.6, 1, 0.5, 0.1, -0.4, 0.1, -0.9, -1, -0.8, -1, -1, -1, -1, -1, -1, -1, -1, -1, -1, -1, 1.1, 0.4, 2.2, 2.3],
    [2, 0.6, 1.5, 1.2, 0.3, 0.4, -1.1, -0.9, -1.1, -1.3, -0.9, -1.4, -1.3, -1.3, -1.4, -1.6, -1.4, -1.2, -1.3, -1.4, 0.4, 0.8, 2, 2.5],
    [0.2, 2.1, 1.2, 0, 1.2, -0.3, 0.9, 0, 0.6, -1.3, -0.7, -0.9, -0.8, -1.6, -1.2, -3, -2, -1.7, 0.3, -1.3, 0.9, 0.4, 2.3, -0.5],
    [-0.2, 2.7, 1.2, 1, 1.3, -0.6, 0.2, 0.1, -0.4, -0.2, 0.6, -1.5, 0.6, -1.9, -2.7, -2.5, -0.7, -3, -0.2, -1.2, -0.3, 0.1, 1.5, 0.3],
    [-0.4, -1.8, -0.3, -1.3, -0.6, -1.7, 0.9, 0.9, 2.6, -0.1, 0, -1.2, 0.6, 0.6, 0.7, 1.1, 1.6, -0.4, 1, 0.5, -1.9, -2.7, -1.5, -2.4],
]

BLUE_YELLOW = [[0, "#0000FF"], [0.5, "#000000"], [1, "#FFFF00"]]
YELLOW_BAR = [[0, "#FFFF00"], [0.5, "#000000"], [1, "#FFFF00"]]
BLUE_RED = [[0, "#0000C0"], [0.5, "#FFFFFF"], [1, "#FF0000"]]

fig = go.Figure()
layout_axes = {}
shapes = []
notes = []
n_axes = 0


def add_axes(left, top, right, bottom, xa=None, ya=None):
    # axes placed by pixel box, everything else off unless asked for
    global n_axes
    n_axes += 1
    sfx = "" if n_axes == 1 else str(n_axes)
    base = dict(showgrid=False, zeroline=False, showline=False, showticklabels=False, ticks="", tickfont=dict(family=FONT, size=26, color="black"))
    xd = dict(base, domain=[left / W, right / W], anchor="y" + sfx)
    yd = dict(base, domain=[1 - bottom / H, 1 - top / H], anchor="x" + sfx)
    xd.update(xa or {})
    yd.update(ya or {})
    layout_axes["xaxis" + sfx] = xd
    layout_axes["yaxis" + sfx] = yd
    return "x" + sfx, "y" + sfx


def txt(x, y, text, size=26, color="black", anchor="center", angle=0):
    notes.append(dict(x=x / W, y=1 - y / H, xref="paper", yref="paper", text=text, showarrow=False, xanchor=anchor, yanchor="middle",
                      textangle=angle, font=dict(family=FONT, size=size, color=color)))


def rect(x0, y0, x1, y1, color, layer="above"):
    shapes.append(dict(type="rect", xref="paper", yref="paper", x0=x0 / W, x1=x1 / W, y0=1 - y0 / H, y1=1 - y1 / H,
                       fillcolor=color, line=dict(width=0), layer=layer))


def vline(x, y0, y1, color, width, dash="solid"):
    shapes.append(dict(type="line", xref="paper", yref="paper", x0=x / W, x1=x / W, y0=1 - y0 / H, y1=1 - y1 / H,
                       line=dict(color=color, width=width, dash=dash)))


def hline(x0, x1, y, color, width):
    shapes.append(dict(type="line", xref="paper", yref="paper", x0=x0 / W, x1=x1 / W, y0=1 - y / H, y1=1 - y / H,
                       line=dict(color=color, width=width)))


def gene_label(name, grey):
    if grey:
        return '<i><span style="color:#7f7f7f">%s</span></i>' % name
    return "<b><i>%s</i></b>" % name


def line_axis(**kw):
    d = dict(showline=True, linecolor="black", linewidth=3, ticks="outside", ticklen=7, tickwidth=3, tickcolor="black", showticklabels=True)
    d.update(kw)
    return d


for letter, x, y in [("A", 28, 23), ("B", 615, 23), ("C", 1267, 23), ("D", 28, 452), ("E", 27, 1103), ("F", 964, 1103), ("G", 29, 1545)]:
    txt(x, y, "<b>%s</b>" % letter, size=40)

# ---------- A
rect(327, 81, 541, 316, "#D9D9D9", layer="below")
rect(116, 52, 327, 81, "#FFD966")
rect(327, 52, 541, 81, "#7F7F7F")
xa, ya = add_axes(115, 57, 539, 316,
                  line_axis(range=[0, 24], tickvals=[0, 4, 8, 12, 16, 20, 24], ticklabelstandoff=-5),
                  line_axis(range=[0, 70.6], tickvals=[0, 20, 40, 60]))
fig.add_trace(go.Scatter(x=ACT_T + ACT_T[::-1], y=ACT_UP + ACT_LOW[::-1], fill="toself", fillcolor="rgba(40,40,245,0.45)", mode="none", xaxis=xa, yaxis=ya))
fig.add_trace(go.Scatter(x=ACT_T, y=ACT_MEAN, mode="lines", line=dict(color="#0000E6", width=3.5), xaxis=xa, yaxis=ya))
vline(152.3, 81, 316, "#555555", 1, "dot")
vline(363.6, 81, 316, "#555555", 1, "dot")
txt(223, 67, "Day", 20)
txt(434, 67, "Night", 20, color="white")
txt(156, 100, "<b>ZT2</b>", 16, anchor="left")
txt(368, 100, "<b>ZT14</b>", 16, anchor="left")
txt(40, 193, "Activity  (%)", 28, angle=-90)
txt(327, 381, "Zeitgeber Time (h)", 27)

# ---------- B
xa, ya = add_axes(672.5, 68, 1111.6, 314,
                  line_axis(range=[0, 20000], tickvals=[0, 5000, 10000, 15000, 20000], ticktext=["0", "5000", "10000", "15000", "20000"], linewidth=5, ticklen=8, showgrid=True, gridcolor="#777777", griddash="3px,3px", gridwidth=1, ticklabelstandoff=-2),
                  dict(showline=True, linecolor="black", linewidth=3, range=[3.5, -0.5], tickvals=[0, 1, 2, 3], ticktext=TISSUES, showticklabels=True, ticklen=12, ticks="outside", tickcolor="white", tickwidth=0, tickfont=dict(family=FONT, size=27, color="black")))
fig.add_trace(go.Bar(y=[0, 1, 2, 3], x=NON_DEGS, orientation="h", width=0.59, marker=dict(color="#7F7F7F", line=dict(width=0)), xaxis=xa, yaxis=ya))
fig.add_trace(go.Bar(y=[0, 1, 2, 3], x=DEGS, orientation="h", width=0.59, marker=dict(color="#ED7D31", line=dict(width=0)), xaxis=xa, yaxis=ya))
for pct, y in zip(DEG_PCT, [99, 159, 220, 285]):
    txt(1121, y, pct, 23, anchor="left")
rect(751, 31, 764, 45, "#7F7F7F")
txt(770, 36, "Non-DEGs", 26, anchor="left")
rect(946, 31, 960, 45, "#ED7D31")
txt(966, 36, "DEGs", 26, anchor="left")
txt(898, 392, "Number of genes", 29)

# ---------- C
xa, ya = add_axes(1364.6, 74, 1887.7, 313,
                  line_axis(range=[-4000, 4000], tickvals=[-4000, -2000, 0, 2000, 4000], ticktext=["-4000", "-2000", "0", "2000", "4000"], linewidth=5, ticklen=8, showgrid=True, gridcolor="#777777", griddash="3px,3px", gridwidth=1,
                            ticklabelstandoff=-3, tickfont=dict(family=FONT, size=27.5, color="black")),
                  dict(range=[3.5, -0.5]))
fig.add_trace(go.Bar(y=[0, 1, 2, 3], x=LFC_DOWN, orientation="h", width=0.69, marker=dict(color="#ADB9CA", line=dict(width=0)), xaxis=xa, yaxis=ya))
fig.add_trace(go.Bar(y=[0, 1, 2, 3], x=LFC_UP, orientation="h", width=0.69, marker=dict(color="#F4A98C", line=dict(width=0)), xaxis=xa, yaxis=ya))
for name, y in zip(TISSUES, [108, 167, 231, 287]):
    txt(1357, y, name, 28, anchor="right")
for val, x, y in zip(LFC_DOWN, [1548, 1520, 1563, 1560], [106, 164, 224, 284]):
    txt(x, y, str(val), 24)
for val, x, y in zip(LFC_UP, [1707, 1720, 1689, 1677], [106, 164, 224, 284]):
    txt(x, y, str(val), 24)
txt(1638, 37, "DEGs Night vs. Day", 28)
txt(1653, 380, "Number of genes", 28)
rect(1466, 413, 1476, 425, "#F4A98C")
txt(1480, 419, "LFC &gt; 0 (up)", 21, anchor="left")
rect(1662, 413, 1673, 425, "#ADB9CA")
txt(1678, 419, "LFC &lt; 0 (down)", 21, anchor="left")


# ---------- D
def heat_block(rows, names, grey_fn, left, right, top, bottom, xrange, scale, xa_extra=None):
    n_rows = len(rows)
    labels = [gene_label(g, grey_fn(g)) for g in names]
    xa_opts = dict(range=xrange)
    xa_opts.update(xa_extra or {})
    xa, ya = add_axes(left, top, right, bottom, xa_opts,
                      dict(range=[n_rows - 0.5, -0.5], tickvals=list(range(n_rows)), ticktext=labels, showticklabels=True, ticklabelstandoff=3,
                           tickfont=dict(family=FONT, size=20, color="black")))
    fig.add_trace(go.Heatmap(z=rows, x=list(range(len(rows[0]))), y=list(range(n_rows)), zmin=-3, zmax=3, colorscale=scale, showscale=False, hoverongaps=False, xaxis=xa, yaxis=ya))
    return xa, ya


def gradient_bar(left, right, top, bottom, low, high, ticks, scale, standoff=0):
    xa, ya = add_axes(left, top, right, bottom,
                      dict(range=[low, high], tickvals=ticks, ticktext=[str(t) for t in ticks], showticklabels=True, ticklabelstandoff=standoff, tickfont=dict(family=FONT, size=20, color="black")),
                      dict(range=[-0.5, 1.5]))
    fig.add_trace(go.Heatmap(z=[[-1, 0, 1], [-1, 0, 1]], x=[low, 0, high], y=[-0.5, 1.5], zmin=-1, zmax=1, colorscale=scale, zsmooth="best", showscale=False, xaxis=xa, yaxis=ya))


D_GROUPS = [(0, 10, 518, 766), (10, 15, 781, 905), (15, 18, 922, 996)]
D_PANELS = [
    ("SCN", D_SCN, D_SCN_GENES, D_SCN_GREY, 93, 454, 273, 273.7, 339, -2.13, 2.98, [-2, 0, 2]),
    ("RET", D_RET, D_RET_GENES, D_RET_GREY, 577.3, 938.7, 755, 757.7, 823, -2.57, 2.9, [-2, 0, 2]),
    ("LUN", D_LUN, D_LUN_GENES, D_LUN_GREY, 1061, 1422, 1238, 1242, 1307, -2, 3.75, [-2, 0, 2]),
    ("LIV", D_LIV, D_LIV_GENES, D_LIV_GREY, 1543, 1904, 1713, 1724, 1789, -1.63, 2.63, [0, 2]),
]
for title, rows, genes, grey, left, right, title_x, split, bar_left, low, high, bar_ticks in D_PANELS:
    txt(title_x, 469, title, 28)
    rect(left, 491, split, 518, "#FFD966")
    rect(split, 491, right, 518, "#7F7F7F")
    txt((left + split) / 2, 505, "ZT2", 20)
    txt((split + right) / 2, 505, "ZT14", 20, color="white")
    for i0, i1, top, bottom in D_GROUPS:
        heat_block(rows[i0:i1], genes[i0:i1], lambda g: g in grey, left, right, top, bottom, [-0.5, 19.5], BLUE_YELLOW)
    gradient_bar(bar_left, right, 1017, 1036, low, high, bar_ticks, YELLOW_BAR)

# ---------- E
E_PANELS = [
    (LIV_HIST, "polar", "#FFC000", 301.4, 136, 101),
    (LUN_HIST, "polar2", "#7030A0", 725.5, 139, 104),
]
polar_layout = {}
for hist, sub, fill, cx, r_out, r_in in E_PANELS:
    R = 280
    cy = 1322.7
    polar_layout[sub] = dict(domain=dict(x=[(cx - R) / W, (cx + R) / W], y=[1 - (cy + R) / H, 1 - (cy - R) / H]),
                             bgcolor="rgba(0,0,0,0)",
                             radialaxis=dict(visible=False, range=[-r_out, R - r_out]),
                             angularaxis=dict(visible=False, rotation=90, direction="clockwise", thetaunit="degrees"))
    # empty bins are left out, a missing r would be drawn from the centre
    filled = [i for i, v in enumerate(hist) if v > 0]
    fig.add_trace(go.Barpolar(r=[hist[i] for i in filled], theta=[(i + 0.5) * 3.75 for i in filled], width=3.75,
                              marker=dict(color=fill, line=dict(color=fill, width=0.6)), subplot=sub))
    ring = list(range(0, 361, 3))
    for radius, width in [(0, 1.2), (r_in - r_out, 1.2)]:
        fig.add_trace(go.Scatterpolar(r=[radius] * len(ring), theta=ring, mode="lines", line=dict(color="#222222", width=width), subplot=sub))
    tick_r, tick_t = [], []
    for h in LONG_TICKS:
        tick_r += [0, r_in - r_out, None]
        tick_t += [h * 15, h * 15, None]
    for h in SHORT_TICKS:
        tick_r += [0, -17, None]
        tick_t += [h * 15, h * 15, None]
    fig.add_trace(go.Scatterpolar(r=tick_r, theta=tick_t, mode="lines", line=dict(color="#222222", width=1.2), subplot=sub))
    fig.add_trace(go.Scatterpolar(r=[r_in - r_out - 14] * 6, theta=[h * 15 for h in CLOCK_HOURS], mode="text", text=CLOCK_LABELS,
                                  textfont=dict(family=FONT, size=18, color="black"), subplot=sub))
txt(162, 1161, "LIV", 28)
txt(585, 1161, "LUN", 28)

# ---------- F
xa, ya = add_axes(1205, 1124, 1670, 1432,
                  line_axis(range=[0, 23.1], tickvals=[0, 4, 8, 12, 16, 20], ticklen=11, ticklabelstandoff=-4),
                  line_axis(range=[-2, 3], tickvals=[-2, -1, 0, 1, 2, 3], ticktext=["-2", "-1", "0", "1", "2", "3"], ticklen=11))
F_SERIES = [("RET", F_RET, "#0B820B", 1231), ("LUN", F_LUN, "#7A0F9E", 1270), ("LIV", F_LIV, "#FF8214", 1308), ("SCN", F_SCN, "#0A0A82", 1347)]
for i in [2, 1, 0, 3]:
    name, vals, col, _ = F_SERIES[i]
    fig.add_trace(go.Scatter(x=F_T, y=vals, mode="lines", line=dict(color=col, width=5.5), name=name, xaxis=xa, yaxis=ya))
for name, vals, col, y in F_SERIES:
    hline(1726, 1759, y, col, 6)
    txt(1776, y, name, 26, anchor="left")
txt(1220, 1145, "<i>Rev-erbα</i>", 28, anchor="left")
txt(1104, 1277, "Normalized Expression", 29, angle=-90)
txt(1141, 1277, "(z-score)", 28, angle=-90)
txt(1437, 1504, "Time (h)", 29)

# ---------- G
G_GROUPS = [(0, 10, 1607, 1854), (10, 15, 1864, 1988)]
G_PANELS = [
    ("SCN", G_SCN, G_SCN_BOLD, 95.7, 456, 273, 275, [-0.5, 23.5], None, 341, 2056, 2080, -2.2, 3.18, [-2, 0, 2], -4),
    ("RET", G_RET, G_RET_BOLD, 580, 934, 755, 758, [-0.21, 23.5], 0, 820, 2051, 2075, -3.35, 2.72, [-2, 0, 2], 1),
    ("LUN", G_LUN, G_LUN_BOLD, 1061, 1422, 1239, 1242, [-0.5, 23.5], 17, 1307, 2056, 2080, -1.85, 2.4, [0, 2], -4),
    ("LIV", G_LIV, G_LIV_BOLD, 1549, 1909, 1713, 1724, [-0.5, 23.5], None, 1794, 2056, 2080, -2, 2.9, [0, 2], -4),
]
for title, rows, bold, left, right, title_x, time_x, xrange, grey_col, bar_left, bar_top, bar_bottom, low, high, bar_ticks, standoff in G_PANELS:
    txt(title_x, 1582, title, 28)
    for gi, (i0, i1, top, bottom) in enumerate(G_GROUPS):
        extra = None
        if gi == 1:
            extra = dict(tickvals=[0, 4, 8, 12, 16, 20], showticklabels=True, tickfont=dict(family=FONT, size=20, color="black"))
        xa, ya = heat_block(rows[i0:i1], G_GENES[i0:i1], lambda g: g not in bold, left, right, top, bottom, xrange, BLUE_RED, extra)
        if grey_col is not None:
            shapes.append(dict(type="rect", xref=xa, yref=ya + " domain", x0=grey_col - 0.5, x1=grey_col + 0.5, y0=0, y1=1,
                               fillcolor="#DCDCDC", line=dict(width=0), layer="below"))
    txt(time_x, 2032, "Time (h)", 23)
    gradient_bar(bar_left, right, bar_top, bar_bottom, low, high, bar_ticks, BLUE_RED, standoff)

for tr in fig.data:
    tr.showlegend = False
    tr.hoverinfo = "skip"

fig.update_layout(width=W, height=H, margin=dict(l=0, r=0, t=0, b=0, pad=0, autoexpand=False), paper_bgcolor="white", plot_bgcolor="rgba(0,0,0,0)",
                  barmode="relative", showlegend=False, shapes=shapes, annotations=notes, font=dict(family=FONT), **layout_axes, **polar_layout)

fig.write_html("out.html", post_script="document.body.style.margin='0';", config={"displayModeBar": False})
